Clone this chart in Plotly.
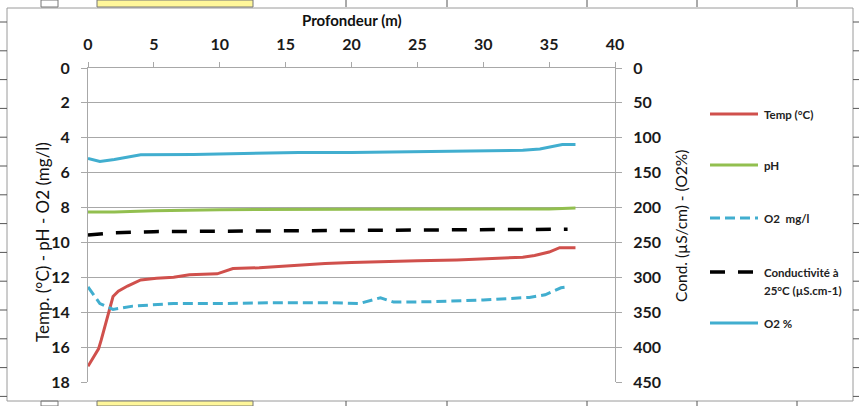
import plotly.graph_objects as go

# ---------------- data ----------------
temp_x = [0, 0.8, 1.0, 1.9, 2.3, 3.0, 4.0, 5.2, 6.5, 7.7, 9.8, 11.0, 13, 15, 17, 18, 20, 22, 25, 28, 30, 33, 33.9, 35.0, 35.8, 37]
temp_y = [17.1, 16.1, 15.6, 13.1, 12.8, 12.5, 12.15, 12.05, 12.0, 11.85, 11.8, 11.5, 11.45, 11.35, 11.25, 11.2, 11.15, 11.1, 11.05, 11.0, 10.95, 10.85, 10.75, 10.55, 10.3, 10.3]

ph_x = [0, 2, 5, 10, 20, 30, 35, 37]
ph_y = [8.25, 8.25, 8.18, 8.12, 8.1, 8.1, 8.08, 8.02]

o2mg_x = [0, 0.9, 1.9, 3.4, 6.5, 10, 15, 18, 20.6, 22.2, 23.2, 26, 30, 33.5, 34.7, 35.9, 36.4]
o2mg_y = [12.55, 13.5, 13.84, 13.65, 13.5, 13.5, 13.45, 13.45, 13.5, 13.17, 13.42, 13.4, 13.3, 13.15, 13.0, 12.6, 12.55]

cond_x = [0, 1, 2, 5, 10, 15, 20, 25, 30, 36.4]
cond_y = [239.5, 238, 236, 234.5, 234, 233, 232, 231.5, 231.5, 231]

o2pct_x = [0, 0.9, 2, 4, 8, 12, 16, 20, 25, 30, 33, 34.3, 35.2, 36, 37]
o2pct_y = [129.5, 134, 131, 124.5, 123.8, 122.5, 121, 121, 120, 119, 118, 116, 112.5, 109.5, 109.5]

x_ticks = [0, 5, 10, 15, 20, 25, 30, 35, 40]
left_ticks = [0, 2, 4, 6, 8, 10, 12, 14, 16, 18]
right_ticks = [0, 50, 100, 150, 200, 250, 300, 350, 400, 450]

RED = "#D0504C"
GREEN = "#92BF4F"
BLUE = "#41AECF"
BLACK = "#000000"
FONT = "Lato"

# ---------------- layout geometry ----------------
W, H = 859, 406
L, R, T, B = 88, 244, 68, 24
PW, PH = W - L - R, H - T - B


def px(x):
    return (x - L) / PW


def py(y):
    return (H - B - y) / PH


fig = go.Figure()
fig.add_trace(go.Scatter(x=temp_x, y=temp_y, mode="lines", line=dict(color=RED, width=3), name="Temp (°C)"))
fig.add_trace(go.Scatter(x=ph_x, y=ph_y, mode="lines", line=dict(color=GREEN, width=3), name="pH"))
fig.add_trace(go.Scatter(x=o2mg_x, y=o2mg_y, mode="lines", line=dict(color=BLUE, width=3, dash="10px,5px"), name="O2  mg/l"))
fig.add_trace(go.Scatter(x=cond_x, y=cond_y, mode="lines", yaxis="y2", line=dict(color=BLACK, width=3.5, dash="15px,13px"), name="Conductivité à 25°C (µS.cm-1)"))
fig.add_trace(go.Scatter(x=o2pct_x, y=o2pct_y, mode="lines", yaxis="y2", line=dict(color=BLUE, width=3), name="O2 %"))

tickfont = dict(family=FONT, size=16, color="#1a1a1a", weight="bold")
GRID = "#A8A8A8"

shapes = []
annotations = []

# chart box (spreadsheet embedded chart)
shapes.append(dict(type="rect", xref="paper", yref="paper", x0=px(7), x1=px(853), y0=py(401), y1=py(8),
                   line=dict(color="#9a9a9a", width=1), fillcolor="rgba(0,0,0,0)", layer="below"))
# yellow cells top / bottom
for (ya, yb) in [(0, 7), (401, 406)]:
    shapes.append(dict(type="rect", xref="paper", yref="paper", x0=px(97), x1=px(253), y0=py(yb), y1=py(ya),
                       line=dict(color="#777", width=1), fillcolor="#FFF79A", layer="below"))
    for xv in [346, 447, 587, 697, 797]:
        shapes.append(dict(type="line", xref="paper", yref="paper", x0=px(xv), x1=px(xv), y0=py(yb), y1=py(ya),
                           line=dict(color="#555", width=1)))
    shapes.append(dict(type="rect", xref="paper", yref="paper", x0=px(41), x1=px(58), y0=py(yb), y1=py(ya),
                       line=dict(color="#777", width=1), fillcolor="rgba(0,0,0,0)"))
# row marks left / right
k = 0
while 22 + 28.8 * k < 406:
    yv = 22 + 28.8 * k
    shapes.append(dict(type="line", xref="paper", yref="paper", x0=px(0), x1=px(7), y0=py(yv), y1=py(yv),
                       line=dict(color="#555", width=1)))
    shapes.append(dict(type="line", xref="paper", yref="paper", x0=px(853), x1=px(859), y0=py(yv), y1=py(yv),
                       line=dict(color="#555", width=1)))
    k += 1

# axis titles
annotations.append(dict(text="Profondeur (m)", xref="paper", yref="paper", x=px(352), y=py(20),
                        xanchor="center", yanchor="middle",
                        showarrow=False, font=dict(family=FONT, size=15, color="#111", weight="bold")))
annotations.append(dict(text="Temp. (°C) - pH - O2 (mg/l)", xref="paper", yref="paper", x=px(42), y=py(242),
                        xanchor="center", yanchor="middle",
                        showarrow=False, textangle=-90, font=dict(family=FONT, size=17, color="#111")))
annotations.append(dict(text="Cond. (µS/cm) - (O2%)", xref="paper", yref="paper", x=px(681), y=py(226),
                        xanchor="center", yanchor="middle",
                        showarrow=False, textangle=-90, font=dict(family=FONT, size=15.5, color="#111")))

# legend (manual)
legend_items = [
    (["Temp (°C)"], RED, None, 3, 114),
    (["pH"], GREEN, None, 3, 165),
    (["O2  mg/l"], BLUE, "10px,5px", 3, 218),
    (["Conductivité à", "25°C (µS.cm-1)"], BLACK, "15px,13px", 3.5, 272),
    (["O2 %"], BLUE, None, 3, 323),
]
for lines, col, dash, w, yv in legend_items:
    ln = dict(color=col, width=w)
    if dash:
        ln["dash"] = dash
    shapes.append(dict(type="line", xref="paper", yref="paper", x0=px(710), x1=px(758), y0=py(yv), y1=py(yv), line=ln))
    for i, label in enumerate(lines):
        annotations.append(dict(text=label, xref="paper", yref="paper", x=px(762), y=py(yv + 18 * i), xanchor="left",
                                yanchor="middle", align="left", showarrow=False,
                                font=dict(family=FONT, size=11.5, color="#222", weight="bold")))

fig.update_layout(
    width=W, height=H,
    margin=dict(l=L, r=R, t=T, b=B, pad=0),
    paper_bgcolor="white", plot_bgcolor="white",
    showlegend=False,
    font=dict(family=FONT),
    xaxis=dict(side="top", range=[0, 40], tickvals=x_ticks, ticks="outside", ticklen=5, tickcolor=GRID,
               showline=True, linecolor=GRID, linewidth=1, showgrid=False, zeroline=False,
               tickfont=tickfont, ticklabelstandoff=6),
    yaxis=dict(range=[18, 0], tickvals=left_ticks, ticks="outside", ticklen=6, tickcolor=GRID,
               showline=True, linecolor=GRID, linewidth=1, showgrid=True, gridcolor=GRID, gridwidth=1,
               zeroline=False, tickfont=tickfont, ticklabelstandoff=8),
    yaxis2=dict(range=[450, 0], tickvals=right_ticks, overlaying="y", side="right", ticks="outside", ticklen=6,
                tickcolor=GRID, showline=True, linecolor=GRID, linewidth=1, showgrid=False, zeroline=False,
                tickfont=tickfont, ticklabelstandoff=8),
    shapes=shapes,
    annotations=annotations,
)

fig.write_html("out.html")
